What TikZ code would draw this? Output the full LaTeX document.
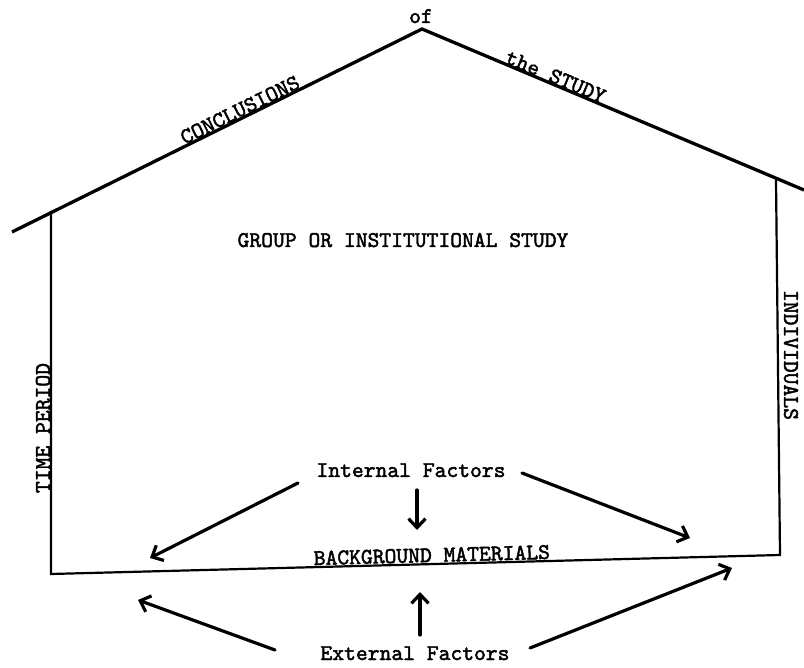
\documentclass[tikz,border=0pt]{standalone}
\usepackage{fontspec}
\newfontfamily\tw{lmmono10-regular.otf}[FakeBold=2]
\usetikzlibrary{arrows.meta}
\begin{document}
\begin{tikzpicture}[x=1pt,y=-1pt,
  lbl/.style={font=\tw\fontsize{22.5}{22.5}\selectfont, inner sep=0pt},
  arr/.style={line width=3.2pt, line cap=round, -{Straight Barb[length=9pt,width=17pt,line width=3.2pt]}},
  wall/.style={line width=2.2pt},
  roof/.style={line width=3.3pt}]
\useasboundingbox (0,0) rectangle (804,668);
% house outline
\coordinate (rl) at (12,232);
\coordinate (apex) at (422,29);
\coordinate (rr) at (804,190);
\coordinate (lt) at (51,211);
\coordinate (lb) at (51,574);
\coordinate (rt) at (776,180);
\coordinate (rb) at (780,555);
\draw[roof] (rl) -- (apex) -- (rr);
\draw[wall] (lt) -- (lb) -- (rb) -- (rt);
% labels
\node[lbl, anchor=base] (of) at (421,23) {of};
\node[lbl, anchor=base, rotate=26.3] (concl) at (243,116) {CONCLUSIONS};
\node[lbl, anchor=base, rotate=-22.8] (thestudy) at (553,83) {the STUDY};
\node[lbl, anchor=base] (group) at (403,247) {GROUP OR INSTITUTIONAL STUDY};
\node[lbl, rotate=90] (time) at (43,428) {TIME PERIOD};
\node[lbl, rotate=-90] (indiv) at (791,355) {INDIVIDUALS};
\node[lbl, anchor=base, rotate=1.5] (bg) at (432,562) {BACKGROUND MATERIALS};
\node[lbl, anchor=base] (intf) at (411,477) {Internal Factors};
\node[lbl, anchor=base] (extf) at (415,660) {External Factors};
% arrow coordinates
\coordinate (i1s) at (298,483); \coordinate (i1e) at (150,558);
\coordinate (i2s) at (417,490); \coordinate (i2e) at (417,530);
\coordinate (i3s) at (522,473); \coordinate (i3e) at (690,538);
\coordinate (e1s) at (275,650); \coordinate (e1e) at (138,600);
\coordinate (e2s) at (420,635); \coordinate (e2e) at (420,592);
\coordinate (e3s) at (530,648); \coordinate (e3e) at (732,568);
\draw[arr] (i1s) -- (i1e);
\draw[arr] (i2s) -- (i2e);
\draw[arr] (i3s) -- (i3e);
\draw[arr] (e1s) -- (e1e);
\draw[arr] (e2s) -- (e2e);
\draw[arr] (e3s) -- (e3e);
\end{tikzpicture}
\end{document}
